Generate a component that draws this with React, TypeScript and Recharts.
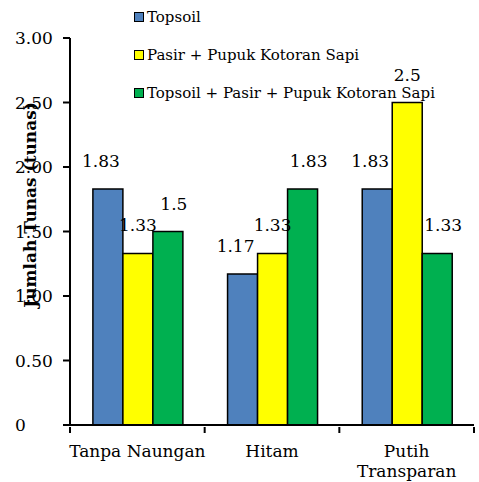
import {
  BarChart,
  Bar,
  XAxis,
  YAxis,
  LabelList,
} from "recharts";

const categories = ["Tanpa Naungan", "Hitam", "Putih\nTransparan"];
const topsoil = [1.83, 1.17, 1.83];
const pasirPupuk = [1.33, 1.33, 2.5];
const campuran = [1.5, 1.83, 1.33];
const yTicks = [0, 0.5, 1, 1.5, 2, 2.5, 3];

const seriesNames = [
  "Topsoil",
  "Pasir + Pupuk Kotoran Sapi",
  "Topsoil + Pasir + Pupuk Kotoran Sapi",
];
const seriesColors = ["#4F81BD", "#FFFF00", "#00B050"];
const labelShift = [-7, 0, 6];

const data = categories.map((c, i) => ({
  name: c,
  s0: topsoil[i],
  s1: pasirPupuk[i],
  s2: campuran[i],
}));

const FONT = "'DejaVu Serif', serif";
const FS = 17;

function barLabel(dx: number) {
  return (props: any) => {
    const { x, y, width, value } = props;
    return (
      <text
        x={Number(x) + Number(width) / 2 + dx}
        y={Number(y) - 28}
        textAnchor="middle"
        dominantBaseline="central"
        style={{ fontFamily: FONT, fontSize: FS }}
        fill="#000"
      >
        {value}
      </text>
    );
  };
}

function YTick(props: any) {
  const { y, payload } = props;
  const v = payload.value as number;
  return (
    <text
      x={15}
      y={y}
      dominantBaseline="central"
      style={{ fontFamily: FONT, fontSize: FS }}
      fill="#000"
    >
      {v === 0 ? "0" : v.toFixed(2)}
    </text>
  );
}

function XTick(props: any) {
  const { x, y, payload, width, visibleTicksCount, index } = props;
  const half =
    payload && typeof payload.offset === "number" && payload.offset > 0
      ? payload.offset
      : Number(width) / Number(visibleTicksCount || 3) / 2;
  const lines = String(payload.value).split("\n");
  const axisY = y - 8;
  return (
    <g>
      <line x1={x - half} x2={x - half} y1={axisY} y2={axisY + 6} stroke="#000" strokeWidth={2} />
      {index === (visibleTicksCount || 3) - 1 && (
        <line x1={x + half} x2={x + half} y1={axisY} y2={axisY + 6} stroke="#000" strokeWidth={2} />
      )}
      <text
        x={x}
        y={axisY + 30}
        textAnchor="middle"
        style={{ fontFamily: FONT, fontSize: FS }}
        fill="#000"
      >
        {lines.map((l, i) => (
          <tspan key={i} x={x} dy={i === 0 ? 0 : 20}>
            {l}
          </tspan>
        ))}
      </text>
    </g>
  );
}

function YLabel() {
  return (
    <text
      x={30}
      y={205}
      transform="rotate(-90 30 205)"
      textAnchor="middle"
      dominantBaseline="central"
      style={{ fontFamily: FONT, fontSize: FS, fontWeight: "bold" }}
      fill="#000"
    >
      Jumlah Tunas (tunas)
    </text>
  );
}

function App() {
  return (
    <div style={{ position: "absolute", left: 0, top: 0, width: 479, height: 482 }}>
      <BarChart
        width={479}
        height={482}
        data={data}
        margin={{ top: 38, right: 5, left: 0, bottom: 7 }}
        barCategoryGap="17%"
        barGap={0}
      >
        <XAxis
          dataKey="name"
          tickLine={false}
          tickSize={8}
          tick={<XTick />}
          axisLine={{ stroke: "#000", strokeWidth: 2 }}
          height={50}
          interval={0}
        />
        <YAxis
          width={70}
          domain={[0, 3]}
          ticks={yTicks}
          tick={<YTick />}
          tickSize={7}
          tickLine={{ stroke: "#000", strokeWidth: 2 }}
          axisLine={{ stroke: "#000", strokeWidth: 2 }}
          label={<YLabel />}
        />
        {["s0", "s1", "s2"].map((k, i) => (
          <Bar
            key={k}
            dataKey={k}
            name={seriesNames[i]}
            fill={seriesColors[i]}
            stroke="#000"
            strokeWidth={1.5}
            isAnimationActive={false}
          >
            <LabelList dataKey={k} content={barLabel(labelShift[i])} />
          </Bar>
        ))}
      </BarChart>
      <div
        style={{
          position: "absolute",
          left: 134,
          top: 0,
          fontFamily: FONT,
          fontSize: 15,
          color: "#000",
        }}
      >
        {seriesNames.map((n, i) => (
          <div
            key={n}
            style={{
              position: "absolute",
              left: 0,
              top: 17 + i * 38 - 12,
              height: 24,
              display: "flex",
              alignItems: "center",
              whiteSpace: "nowrap",
            }}
          >
            <span
              style={{
                display: "inline-block",
                width: 8,
                height: 8,
                background: seriesColors[i],
                border: "1.5px solid #000",
                marginRight: 3,
              }}
            />
            {n}
          </div>
        ))}
      </div>
    </div>
  );
}

export default App;
